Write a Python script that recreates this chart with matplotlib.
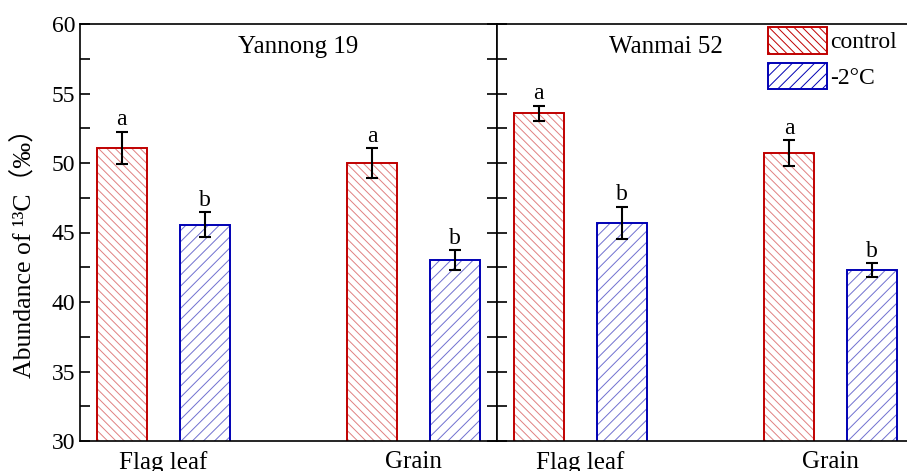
import matplotlib
matplotlib.use('Agg')
import matplotlib.pyplot as plt
from matplotlib.ticker import MultipleLocator
from matplotlib.patches import Patch
import numpy as np

plt.rcParams['font.family'] = ['Liberation Serif', 'Noto Sans CJK SC']
plt.rcParams['hatch.linewidth'] = 0.7

# data
groups = ['Flag leaf', 'Grain']
cultivars = ['Yannong 19', 'Wanmai 52']
treatments = ['control', '-2°C']
means = {
    'Yannong 19': {'control': [51.1, 50.0], '-2°C': [45.55, 43.0]},
    'Wanmai 52': {'control': [53.57, 50.7], '-2°C': [45.7, 42.3]},
}
errs = {
    'Yannong 19': {'control': [1.15, 1.05], '-2°C': [0.9, 0.72]},
    'Wanmai 52': {'control': [0.54, 0.92], '-2°C': [1.15, 0.48]},
}
letters = {'control': ['a', 'a'], '-2°C': ['b', 'b']}

edge_cols = {'control': '#C00000', '-2°C': '#0000B4'}
hatch_cols = {'control': '#E08080', '-2°C': '#7070D0'}
hatches = {'control': '\\\\\\\\', '-2°C': '///'}
offsets = {'control': -1 / 6, '-2°C': 1 / 6}
title_x = {'Yannong 19': 0.523, 'Wanmai 52': 0.405}

W, H = 907, 471
fig = plt.figure(figsize=(W / 100, H / 100), dpi=100)
ax_l = fig.add_axes([80 / W, 30 / H, 417 / W, 417 / H])
ax_r = fig.add_axes([497 / W, 30 / H, 417 / W, 417 / H])

x = np.arange(len(groups))
width = 0.2
fs = 17

for ax, cv in zip([ax_l, ax_r], cultivars):
    for tr in treatments:
        pos = x + offsets[tr]
        vals = means[cv][tr]
        e = errs[cv][tr]
        # hatch in light colour, then dark outline on top
        ax.bar(pos, vals, width, color='white', edgecolor=hatch_cols[tr],
               hatch=hatches[tr], linewidth=0)
        ax.bar(pos, vals, width, color='none', edgecolor=edge_cols[tr], linewidth=1.4)
        ax.errorbar(pos, vals, yerr=e, fmt='none', ecolor='black', elinewidth=1.5,
                    capsize=4.5, capthick=1.5)
        for p, v, ee, lt in zip(pos, vals, e, letters[tr]):
            ax.annotate(lt, (p, v + ee), xytext=(0, 1), textcoords='offset points',
                        ha='center', va='bottom', fontsize=fs)
    ax.set_xlim(-1 / 3, 4 / 3)
    ax.set_ylim(30, 60)
    ax.yaxis.set_major_locator(MultipleLocator(5))
    ax.yaxis.set_minor_locator(MultipleLocator(2.5))
    ax.tick_params(axis='y', which='both', direction='in', left=True, right=True,
                   length=7, width=1.2, labelsize=fs)
    ax.set_xticks(x)
    ax.set_xticklabels(groups)
    ax.tick_params(axis='x', length=0, pad=7, labelsize=18)
    for s in ax.spines.values():
        s.set_linewidth(1.2)
    ax.text(title_x[cv], 0.945, cv, transform=ax.transAxes, ha='center', va='center',
            fontsize=18)

ax_r.tick_params(axis='y', which='both', labelleft=False, right=False)
ax_l.set_ylabel('Abundance of ¹³C（‰）', fontsize=18.5)
ax_l.yaxis.set_label_coords(-0.105, 0.465)

handles = [Patch(facecolor='white', edgecolor=edge_cols[t], hatch=hatches[t], linewidth=1.4)
           for t in treatments]
fig.legend(handles, treatments, loc='upper left', bbox_to_anchor=(768 / W, 1 - 27 / H),
           frameon=False, fontsize=fs, handlelength=2.5, handleheight=1.35,
           handletextpad=0.15, labelspacing=0.4, borderpad=0, borderaxespad=0)

fig.savefig('out.png', dpi=100)
